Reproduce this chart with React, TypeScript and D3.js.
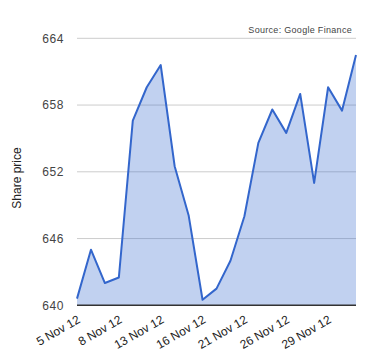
import React from "react";
import * as d3 from "d3";

const dates = [
  "5 Nov 12", "6 Nov 12", "7 Nov 12", "8 Nov 12", "9 Nov 12", "12 Nov 12", "13 Nov 12",
  "14 Nov 12", "15 Nov 12", "16 Nov 12", "19 Nov 12", "20 Nov 12", "21 Nov 12",
  "22 Nov 12", "23 Nov 12", "26 Nov 12", "27 Nov 12", "28 Nov 12", "29 Nov 12",
  "30 Nov 12", "3 Dec 12",
];
const prices = [
  640.6, 645.0, 642.0, 642.5, 656.6, 659.6, 661.6, 652.5, 648.1, 640.5, 641.5,
  644.0, 648.0, 654.6, 657.6, 655.5, 659.0, 651.0, 659.6, 657.5, 662.5,
];
const yTicks = [640, 646, 652, 658, 664];
const labelEvery = 3;

const W = 380, H = 360;
const left = 77, right = 356, top = 38.3, bottom = 305.3;

export default function App() {
  const x = d3.scalePoint<string>().domain(dates).range([left, right]);
  const y = d3.scaleLinear().domain([640, 664]).range([bottom, top]);
  const data = dates.map((d, i) => ({ d, v: prices[i] }));
  const line = d3.line<{ d: string; v: number }>().x((p) => x(p.d)!).y((p) => y(p.v));
  const area = d3
    .area<{ d: string; v: number }>()
    .x((p) => x(p.d)!)
    .y0(bottom)
    .y1((p) => y(p.v));
  const font = "'Liberation Sans', Arial, sans-serif";

  return (
    <svg
      width={W}
      height={H}
      style={{ position: "absolute", left: 0, top: 0 }}
      fontFamily={font}
    >
      <rect width={W} height={H} fill="#fff" />
      {yTicks.map((t) =>
        t === 640 ? null : (
          <line key={t} x1={left} x2={right} y1={y(t)} y2={y(t)} stroke="#cccccc" strokeWidth={1} />
        )
      )}
      <path d={area(data)!} fill="#3366cc" fillOpacity={0.3} />
      <path d={line(data)!} fill="none" stroke="#3366cc" strokeWidth={2} strokeLinejoin="round" />
      <line x1={left} x2={right} y1={bottom} y2={bottom} stroke="#333333" strokeWidth={1.5} />
      {yTicks.map((t) => (
        <text key={t} x={64} y={y(t) + 4.3} textAnchor="end" fontSize={12} fill="#444" letterSpacing={0.6}>
          {t}
        </text>
      ))}
      {dates.map((d, i) =>
        i % labelEvery === 0 ? (
          <text
            key={d}
            transform={`translate(${x(d)! + 4},322) rotate(-30)`}
            textAnchor="end"
            fontSize={12}
            fill="#222"
          >
            {d}
          </text>
        ) : null
      )}
      <text
        transform="translate(21,178) rotate(-90)"
        textAnchor="middle"
        fontSize={12}
        fill="#222"
      >
        Share price
      </text>
      <text x={352} y={32.5} textAnchor="end" fontSize={9} fill="#444" letterSpacing={0.3}>
        Source: Google Finance
      </text>
    </svg>
  );
}
